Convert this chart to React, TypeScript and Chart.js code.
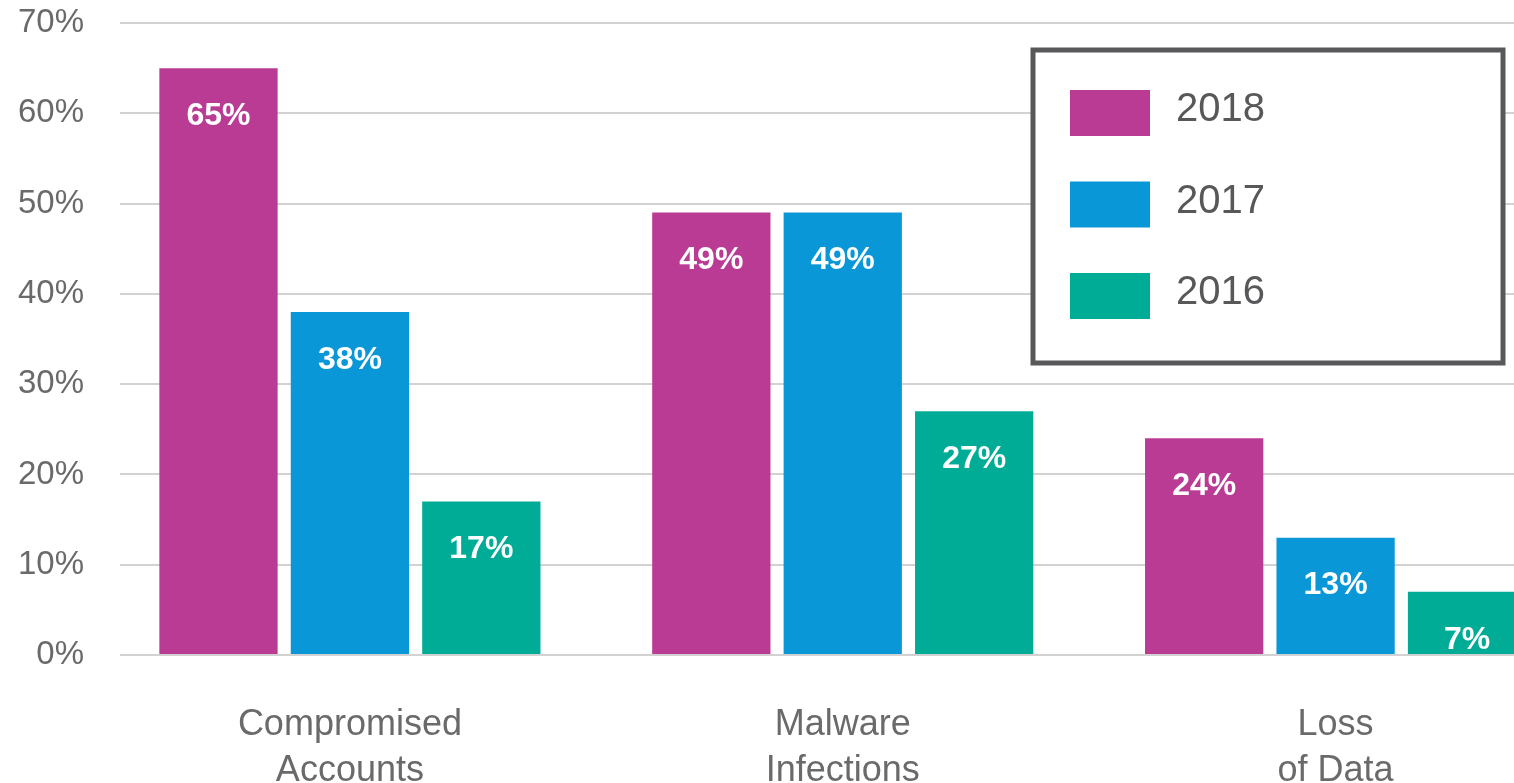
import React, { useEffect, useRef } from "react";
import { Chart, registerables } from "chart.js";

Chart.register(...registerables);

const categories: string[][] = [
  ["Compromised", "Accounts"],
  ["Malware", "Infections"],
  ["Loss", "of Data"],
];
const seriesNames = ["2018", "2017", "2016"];
const values2018 = [65, 49, 24];
const values2017 = [38, 49, 13];
const values2016 = [17, 27, 7];
const seriesColors = ["#B93B94", "#0A97D8", "#00AC96"];
const yTickValues = [0, 10, 20, 30, 40, 50, 60, 70];

const FONT = "'Liberation Sans', Arial, Helvetica, sans-serif";
const TEXT_GRAY = "#6a6a6a";

const valueLabels = {
  id: "valueLabels",
  afterDatasetsDraw(chart: any) {
    const ctx = chart.ctx;
    ctx.save();
    ctx.font = `bold 32px ${FONT}`;
    ctx.fillStyle = "#ffffff";
    ctx.textAlign = "center";
    ctx.textBaseline = "middle";
    chart.data.datasets.forEach((ds: any, i: number) => {
      chart.getDatasetMeta(i).data.forEach((bar: any, j: number) => {
        const v = ds.data[j].y;
        ctx.fillText(`${v}%`, bar.x, bar.y + 48);
      });
    });
    ctx.restore();
  },
};

const boxLegend = {
  id: "boxLegend",
  afterDraw(chart: any) {
    const ctx = chart.ctx;
    const area = chart.chartArea;
    const bx = area.right - 481;
    const by = area.top + 27;
    const bw = 470;
    const bh = 313;
    ctx.save();
    ctx.fillStyle = "#ffffff";
    ctx.fillRect(bx, by, bw, bh);
    ctx.lineWidth = 5;
    ctx.strokeStyle = "#58585b";
    ctx.strokeRect(bx, by, bw, bh);
    ctx.font = `40px ${FONT}`;
    ctx.textAlign = "left";
    ctx.textBaseline = "middle";
    chart.data.datasets.forEach((ds: any, i: number) => {
      const sy = by + 40 + i * 91.5;
      ctx.fillStyle = ds.backgroundColor;
      ctx.fillRect(bx + 37, sy, 80, 46);
      ctx.fillStyle = "#58585b";
      ctx.fillText(ds.label, bx + 143, sy + 20);
    });
    ctx.restore();
  },
};

export default function App() {
  const ref = useRef<HTMLCanvasElement | null>(null);

  useEffect(() => {
    document.body.style.margin = "0";
    if (!ref.current) return;
    const series = [values2018, values2017, values2016];
    const chart = new Chart(ref.current, {
      type: "bar",
      data: {
        datasets: series.map((vals, i) => ({
          label: seriesNames[i],
          data: vals.map((v, j) => ({ x: j, y: v })),
          backgroundColor: seriesColors[i],
          borderWidth: 0,
          categoryPercentage: 0.8,
          barPercentage: 0.9,
        })),
      },
      options: {
        animation: false,
        responsive: false,
        devicePixelRatio: 1,
        layout: { padding: { top: 23, right: 0, left: 0, bottom: 0 } },
        plugins: {
          legend: { display: false },
          tooltip: { enabled: false },
        },
        scales: {
          x: {
            type: "linear",
            offset: false,
            min: -0.4665,
            max: 2.362,
            grid: { display: false },
            border: { display: false },
            afterBuildTicks: (scale: any) => {
              scale.ticks = categories.map((_, i) => ({ value: i }));
            },
            afterFit: (scale: any) => {
              scale.height = 128;
              scale.paddingLeft = 0;
              scale.paddingRight = 0;
            },
            ticks: {
              autoSkip: false,
              maxRotation: 0,
              minRotation: 0,
              padding: 39,
              color: TEXT_GRAY,
              font: { family: FONT, size: 36, lineHeight: 1.28 },
              callback: (v: any) => categories[Number(v)] ?? "",
            },
          },
          y: {
            min: 0,
            max: 70,
            afterBuildTicks: (scale: any) => {
              scale.ticks = yTickValues.map((v) => ({ value: v }));
            },
            afterFit: (scale: any) => {
              scale.width = 120;
              scale.paddingTop = 0;
              scale.paddingBottom = 0;
            },
            grid: { color: "#d2d2d2", lineWidth: 2, drawTicks: false },
            border: { display: false },
            ticks: {
              padding: 36,
              color: TEXT_GRAY,
              font: { family: FONT, size: 33 },
              callback: (v: any) => `${v}%`,
            },
          },
        },
      },
      plugins: [valueLabels, boxLegend],
    } as any);
    return () => chart.destroy();
  }, []);

  return (
    <div style={{ width: 1514, height: 783, overflow: "hidden", background: "#fff" }}>
      <canvas ref={ref} width={1514} height={783} style={{ display: "block" }} />
    </div>
  );
}
